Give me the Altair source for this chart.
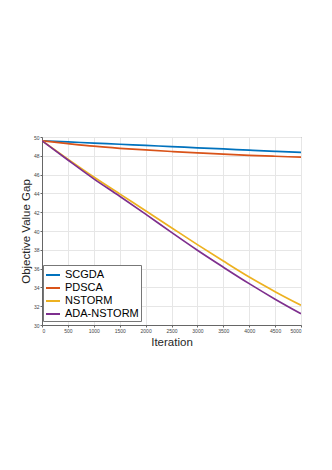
import altair as alt
import pandas as pd

iterations = [0, 500, 1000, 1500, 2000, 2500, 3000, 3500, 4000, 4500, 5000]
scgda = [49.6, 49.48, 49.35, 49.23, 49.1, 48.98, 48.85, 48.73, 48.6, 48.48, 48.37]
pdsca = [49.6, 49.3, 49.02, 48.8, 48.62, 48.46, 48.31, 48.17, 48.05, 47.95, 47.85]
nstorm = [49.6, 47.65, 45.75, 43.95, 42.15, 40.35, 38.55, 36.8, 35.1, 33.55, 32.1]
ada_nstorm = [49.6, 47.55, 45.55, 43.7, 41.8, 39.85, 37.95, 36.15, 34.4, 32.75, 31.2]

series_names = ["SCGDA", "PDSCA", "NSTORM", "ADA-NSTORM"]
series_colors = ["#0072BD", "#D95319", "#EDB120", "#7E2F8E"]
x_ticks = list(range(0, 5001, 500))
y_ticks = list(range(30, 51, 2))

rows = []
for name, vals in zip(series_names, [scgda, pdsca, nstorm, ada_nstorm]):
    for it, v in zip(iterations, vals):
        rows.append({"Iteration": it, "Value": v, "Method": name})
df = pd.DataFrame(rows)

font = "Liberation Sans"

chart = alt.Chart(df).mark_line(strokeWidth=1.7, clip=True, interpolate="monotone").encode(
    x=alt.X("Iteration:Q", scale=alt.Scale(domain=[0, 5000], nice=False),
            axis=alt.Axis(title="Iteration", values=x_ticks, format="d",
                          labelFontSize=5, labelColor="#444444", titleFontSize=11.5,
                          titleFontWeight="normal", titleColor="#262626",
                          titlePadding=3, tickSize=2, tickColor="#666666",
                          domainColor="#666666", gridColor="#e6e6e6", labelPadding=1)),
    y=alt.Y("Value:Q", scale=alt.Scale(domain=[30, 50], nice=False, zero=False),
            axis=alt.Axis(title="Objective Value Gap", values=y_ticks,
                          labelFontSize=5, labelColor="#444444", titleFontSize=11.5,
                          titleFontWeight="normal", titleColor="#262626",
                          titlePadding=2, tickSize=2, tickColor="#666666",
                          domainColor="#666666", gridColor="#e6e6e6", labelPadding=1)),
    color=alt.Color("Method:N", sort=series_names,
                    scale=alt.Scale(domain=series_names, range=series_colors),
                    legend=alt.Legend(title=None, orient="none", legendX=1, legendY=128,
                                      symbolType="stroke", symbolStrokeWidth=2,
                                      symbolSize=196, labelFontSize=11, labelFont=font,
                                      labelColor="#000000", rowPadding=0,
                                      strokeColor="#777777", fillColor="white",
                                      padding=2, labelOffset=4)),
).properties(
    width=259, height=188,
    autosize=alt.AutoSizeParams(type="none"),
    padding={"left": 34, "top": 129, "right": 20, "bottom": 140},
).configure_view(
    stroke="#666666", strokeWidth=1
).configure_axis(
    labelFont=font, titleFont=font
)

chart.save("out.html", embed_options={"renderer": "svg", "actions": False})
